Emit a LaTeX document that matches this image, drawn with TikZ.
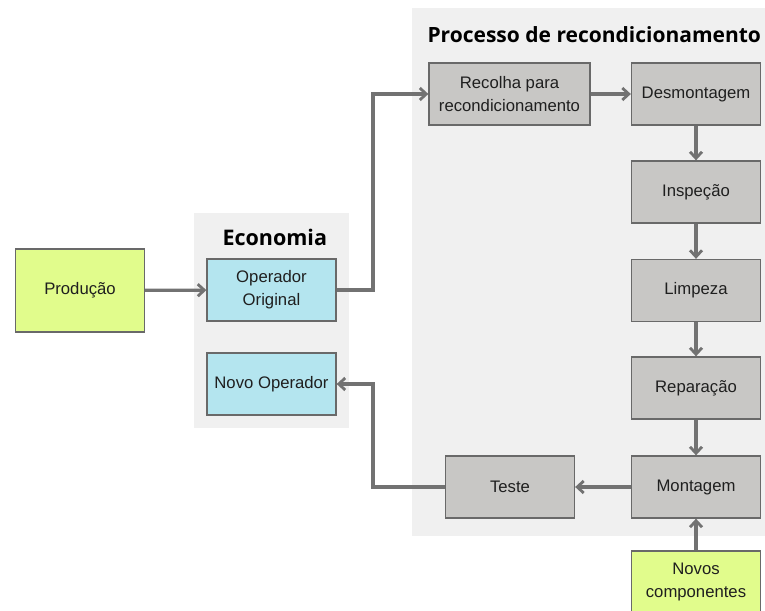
\documentclass[tikz,border=0pt]{standalone}
\usepackage{fontspec}
\setmainfont{Liberation Sans}
\newfontfamily\titlefont{Open Sans}
\usetikzlibrary{arrows.meta}
\definecolor{panelbg}{RGB}{240,240,240}
\definecolor{stepfill}{RGB}{200,199,197}
\definecolor{greenfill}{RGB}{225,252,140}
\definecolor{bluefill}{RGB}{180,229,239}
\definecolor{edgegray}{RGB}{105,105,105}
\definecolor{linkgray}{RGB}{114,114,114}
\begin{document}
\begin{tikzpicture}[x=1pt,y=-1pt,
  box/.style={draw=edgegray,line width=1.3pt,minimum width=129pt,minimum height=62pt,
    align=center,inner sep=0pt,font=\fontsize{16.7}{23}\selectfont,text=black!88},
  stepbox/.style={box,fill=stepfill},
  inputbox/.style={box,fill=greenfill},
  actorbox/.style={box,fill=bluefill},
  paneltitle/.style={font=\titlefont\bfseries\fontsize{21.5}{26}\selectfont,anchor=base west},
  link/.style={draw=linkgray,line width=3.3pt,-{Straight Barb[length=6.5pt,width=12pt,line width=2.8pt]}}]
  \useasboundingbox (0,0) rectangle (765,610);
  % panels
  \fill[panelbg] (194,213) rectangle (349,428);
  \fill[panelbg] (412,8) rectangle (765,536);
  \node[paneltitle] (econtitle) at (219,245) {Economia};
  \node[paneltitle,font=\titlefont\bfseries\fontsize{21}{26}\selectfont] (proctitle) at (424,43) {Processo de recondicionamento};
  % boxes
  \node[inputbox,minimum width=129pt,minimum height=83pt] (prod) at (80,290.5) {Produção};
  \node[actorbox] (orig) at (271.5,290) {Operador\\Original};
  \node[actorbox] (novo) at (271.5,384) {Novo Operador};
  \node[stepbox,minimum width=161pt] (recolha) at (509.5,94) {Recolha para\\recondicionamento};
  \node[stepbox] (desm) at (696,94) {\raisebox{-1.5pt}{Desmontagem}};
  \node[stepbox] (insp) at (696,192) {\raisebox{-1.5pt}{Inspeção}};
  \node[stepbox] (limp) at (696,290.5) {\raisebox{-1.5pt}{Limpeza}};
  \node[stepbox] (rep) at (696,388) {\raisebox{-1.5pt}{Reparação}};
  \node[stepbox] (mont) at (696,487) {\raisebox{-1.5pt}{Montagem}};
  \node[stepbox] (teste) at (510,487) {Teste};
  \node[inputbox] (novos) at (696,582) {Novos\\componentes};
  % connectors
  \coordinate (upturn) at (373,290);
  \coordinate (downturn) at (373,487);
  \path[link] (prod) -- (orig);
  \path[link] (orig.east) -- (upturn) |- (recolha.west);
  \path[link] (recolha) -- (desm);
  \path[link] (desm) -- (insp);
  \path[link] (insp) -- (limp);
  \path[link] (limp) -- (rep);
  \path[link] (rep) -- (mont);
  \path[link] (mont) -- (teste);
  \path[link] (teste.west) -- (downturn) |- (novo.east);
  \path[link] (novos) -- (mont);
\end{tikzpicture}
\end{document}
